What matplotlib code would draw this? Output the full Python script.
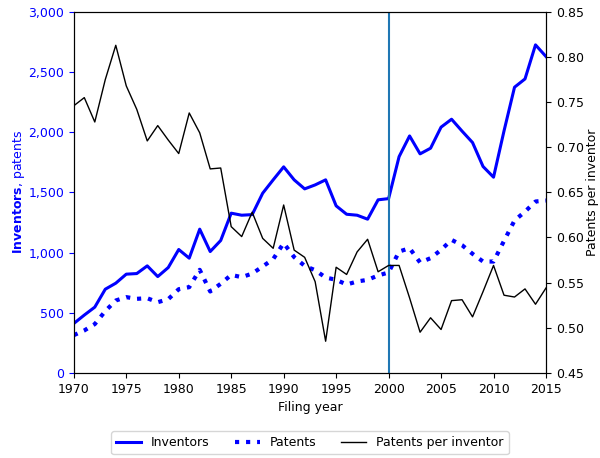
import matplotlib
matplotlib.use("Agg")
import matplotlib.pyplot as plt
from matplotlib.ticker import FuncFormatter, MultipleLocator

years = list(range(1970, 2016))

inventors = [410, 480, 546, 695, 745, 820, 825, 889, 800, 875,
             1025, 953, 1194, 1008, 1100, 1327, 1310, 1315, 1493, 1604,
             1712, 1604, 1529, 1562, 1604, 1388, 1318, 1310, 1277, 1438,
             1448, 1797, 1969, 1820, 1867, 2042, 2108, 2009, 1914, 1715,
             1626, 2011, 2374, 2443, 2726, 2629]

patents = [313, 352, 405, 513, 601, 629, 615, 620, 587, 612,
           695, 712, 856, 676, 740, 814, 795, 825, 884, 945,
           1078, 962, 889, 853, 792, 773, 734, 759, 773, 809,
           834, 1008, 1036, 917, 953, 1022, 1105, 1061, 989, 925,
           925, 1097, 1266, 1340, 1424, 1432]

per_inventor = [0.746, 0.755, 0.728, 0.775, 0.813, 0.768, 0.742, 0.707, 0.724, 0.708,
                0.693, 0.738, 0.716, 0.676, 0.677, 0.612, 0.601, 0.628, 0.599, 0.588,
                0.636, 0.586, 0.578, 0.551, 0.485, 0.567, 0.559, 0.584, 0.598, 0.562,
                0.569, 0.569, 0.533, 0.495, 0.511, 0.498, 0.530, 0.531, 0.512, 0.540,
                0.569, 0.536, 0.534, 0.543, 0.526, 0.544]

marker_year = 2000

plt.rcParams["font.size"] = 9

fig, ax = plt.subplots(figsize=(6.0, 4.58), dpi=100)
fig.subplots_adjust(left=0.123, right=0.91, top=0.974, bottom=0.186)
ax2 = ax.twinx()

l1, = ax.plot(years, inventors, color="blue", linewidth=2.2, label="Inventors")
l2, = ax.plot(years, patents, color="blue", linewidth=3, linestyle=":", label="Patents")
l3, = ax2.plot(years, per_inventor, color="black", linewidth=1, label="Patents per inventor")
ax.axvline(marker_year, color="#1f77b4", linewidth=1.5)

ax.set_xlim(1970, 2015)
ax.set_ylim(0, 3000)
ax2.set_ylim(0.45, 0.85)
ax.xaxis.set_major_locator(MultipleLocator(5))
ax.yaxis.set_major_locator(MultipleLocator(500))
ax.yaxis.set_major_formatter(FuncFormatter(lambda v, p: f"{int(v):,}"))
ax2.yaxis.set_major_formatter(FuncFormatter(lambda v, p: f"{v:.2f}"))
ax2.yaxis.set_major_locator(MultipleLocator(0.05))

ax.tick_params(axis="y", colors="blue")
ax.set_ylabel(r"$\mathbf{Inventors}$, patents", color="blue", labelpad=1)
ax.set_xlabel("Filing year")
ax2.set_ylabel("Patents per inventor", labelpad=1.5)

ax.legend(handles=[l1, l2, l3], loc="upper center", bbox_to_anchor=(0.5, -0.145),
          ncol=3, fontsize=9)

fig.savefig("out.png", dpi=100)
